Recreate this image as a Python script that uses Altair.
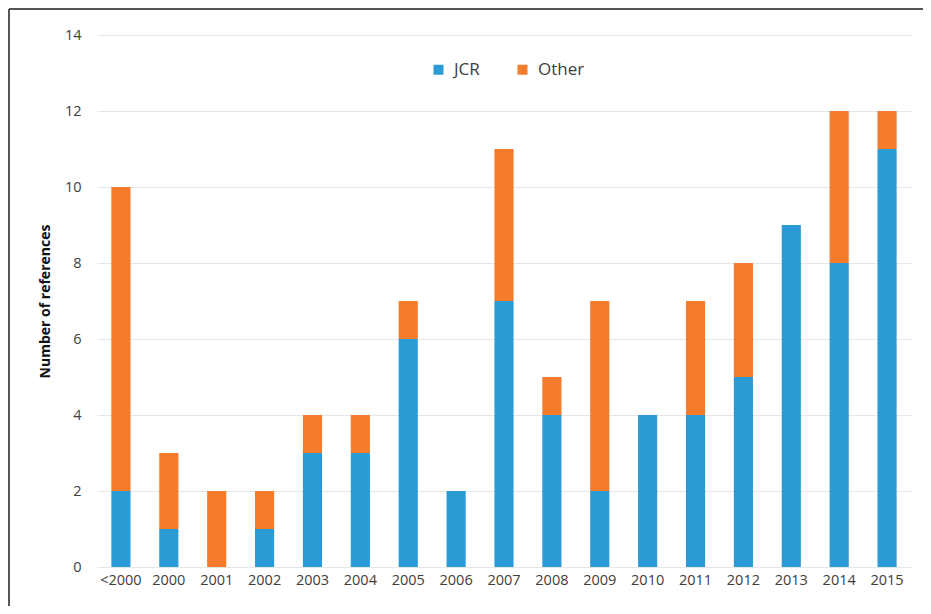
import altair as alt
import pandas as pd

years = ["<2000", "2000", "2001", "2002", "2003", "2004", "2005", "2006", "2007",
         "2008", "2009", "2010", "2011", "2012", "2013", "2014", "2015"]
jcr = [2, 1, 0, 1, 3, 3, 6, 2, 7, 4, 2, 4, 4, 5, 9, 8, 11]
other = [8, 2, 2, 1, 1, 1, 1, 0, 4, 1, 5, 0, 3, 3, 0, 4, 1]
series = ["JCR", "Other"]
colors = ["#2b9bd6", "#f47c2c"]
y_ticks = [0, 2, 4, 6, 8, 10, 12, 14]

rows = []
for i, y in enumerate(years):
    rows.append({"year": y, "series": "JCR", "value": jcr[i], "ord": 0})
    rows.append({"year": y, "series": "Other", "value": other[i], "ord": 1})
df = pd.DataFrame(rows)

FONT = "Open Sans"

bars = alt.Chart(df).mark_bar().encode(
    x=alt.X("year:N", sort=years, title=None,
            scale=alt.Scale(paddingInner=0.6, paddingOuter=0.3),
            axis=alt.Axis(labelAngle=0, ticks=False, domain=False, grid=False,
                          labelPadding=6, labelFontSize=14.5, labelColor="#404040",
                          labelFont=FONT)),
    y=alt.Y("value:Q", stack="zero", title="Number of references",
            scale=alt.Scale(domain=[0, 14], nice=False),
            axis=alt.Axis(values=y_ticks, ticks=False, domain=False, grid=True,
                          gridColor="#e6e6e6", gridWidth=1,
                          labelPadding=16, labelFontSize=14.5, labelColor="#404040",
                          labelFont=FONT, titleFont=FONT, titleFontSize=14,
                          titleFontWeight="bold", titleColor="#111111",
                          titlePadding=12)),
    color=alt.Color("series:N", sort=series,
                    scale=alt.Scale(domain=series, range=colors),
                    legend=alt.Legend(title=None, orient="none", direction="horizontal",
                                      legendX=333, legendY=26, symbolType="square",
                                      symbolSize=100, symbolStrokeWidth=0,
                                      labelFontSize=17, labelColor="#404040",
                                      labelFont=FONT, columnPadding=34,
                                      labelOffset=7)),
    order=alt.Order("ord:Q", sort="ascending"),
)

border_top = alt.Chart(df).mark_rule(color="#555555", strokeWidth=2, clip=False).encode(
    x=alt.value(-88), x2=alt.value(830), y=alt.value(-26)
)
border_left = alt.Chart(df).mark_rule(color="#555555", strokeWidth=2, clip=False).encode(
    x=alt.value(-88), y=alt.value(-26), y2=alt.value(600)
)

chart = alt.layer(bars, border_top, border_left).properties(
    width=814, height=532,
    autosize=alt.AutoSizeParams(type="none"),
    padding={"left": 89, "top": 27, "right": 12, "bottom": 39},
).configure(font=FONT, background="white").configure_view(stroke=None)

chart.save("out.html", embed_options={"renderer": "svg", "actions": False})
